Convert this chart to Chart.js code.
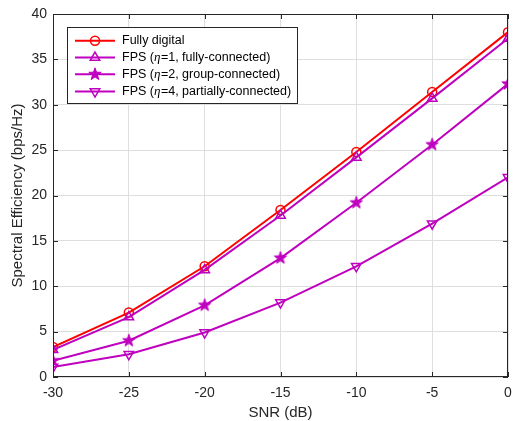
<!DOCTYPE html>
<html>
<head>
<meta charset="utf-8">
<script src="https://cdn.jsdelivr.net/npm/chart.js@4/dist/chart.umd.min.js"></script>
<style>
  html, body { margin: 0; padding: 0; background: #fff; }
  #wrap { width: 515px; height: 421px; }
</style>
</head>
<body>
<div id="wrap"><canvas id="chart" width="515" height="421"></canvas></div>
<script>
// data
const snr = [-30, -25, -20, -15, -10, -5, 0];
const fullyDigital = [3.3, 7.1, 12.2, 18.4, 24.8, 31.4, 38.0];
const fpsEta1 = [3.0, 6.6, 11.8, 17.8, 24.2, 30.7, 37.3];
const fpsEta2 = [1.8, 4.0, 7.9, 13.1, 19.2, 25.6, 32.3];
const fpsEta4 = [1.1, 2.5, 4.9, 8.2, 12.2, 16.9, 22.0];
const xTicks = [-30, -25, -20, -15, -10, -5, 0];
const yTicks = [0, 5, 10, 15, 20, 25, 30, 35, 40];
const legendLabels = [
  ['Fully digital'],
  ['FPS (', 'η', '=1, fully-connected)'],
  ['FPS (', 'η', '=2, group-connected)'],
  ['FPS (', 'η', '=4, partially-connected)']
];

const RED = '#ff0000';
const MAG = '#bf00bf';
const AXIS = '#262626';
const FONT = '"Liberation Sans", Arial, sans-serif';

// filled five point star used as a point style
function makeStar(color, r) {
  const c = document.createElement('canvas');
  const s = Math.ceil(r * 2 + 3);
  c.width = s; c.height = s;
  const g = c.getContext('2d');
  starPath(g, s / 2, s / 2, r);
  g.fillStyle = color;
  g.fill();
  g.strokeStyle = color;
  g.lineWidth = 1;
  g.stroke();
  return c;
}
function starPath(g, cx, cy, r) {
  const ri = r * 0.4;
  g.beginPath();
  for (let i = 0; i < 10; i++) {
    const rr = i % 2 === 0 ? r : ri;
    const a = -Math.PI / 2 + i * Math.PI / 5;
    const px = cx + rr * Math.cos(a), py = cy + rr * Math.sin(a);
    if (i === 0) g.moveTo(px, py); else g.lineTo(px, py);
  }
  g.closePath();
}
const starImg = makeStar(MAG, 6.5);

function pts(ys) {
  return snr.map((x, i) => ({ x, y: ys[i] }));
}

const markers = ['circle', 'triangle', 'star', 'down'];
const colors = [RED, MAG, MAG, MAG];

function drawMarker(ctx, type, x, y, color) {
  ctx.save();
  ctx.strokeStyle = color;
  ctx.fillStyle = color;
  ctx.lineWidth = 1.5;
  if (type === 'circle') {
    ctx.beginPath();
    ctx.arc(x, y, 4.5, 0, Math.PI * 2);
    ctx.stroke();
  } else if (type === 'triangle' || type === 'down') {
    const r = 5.5, d = type === 'down' ? -1 : 1;
    ctx.beginPath();
    for (let i = 0; i < 3; i++) {
      const a = i * 2 * Math.PI / 3;
      const px = x + Math.sin(a) * r, py = y - d * Math.cos(a) * r;
      if (i === 0) ctx.moveTo(px, py); else ctx.lineTo(px, py);
    }
    ctx.closePath();
    ctx.stroke();
  } else {
    starPath(ctx, x, y, 6.5);
    ctx.fill();
    ctx.lineWidth = 1;
    ctx.stroke();
  }
  ctx.restore();
}

const frame = {
  id: 'frame',
  afterDraw(chart) {
    const { ctx, chartArea: a } = chart;
    const xs = chart.scales.x, ys = chart.scales.y;
    ctx.save();
    ctx.strokeStyle = AXIS;
    ctx.lineWidth = 1;
    ctx.strokeRect(Math.round(a.left) + 0.5, Math.round(a.top) + 0.5,
      Math.round(a.right - a.left) - 1, Math.round(a.bottom - a.top) - 1);
    ctx.beginPath();
    const tl = 5;
    xTicks.forEach(v => {
      const px = Math.round(xs.getPixelForValue(v)) + 0.5;
      ctx.moveTo(px, a.bottom); ctx.lineTo(px, a.bottom - tl);
      ctx.moveTo(px, a.top); ctx.lineTo(px, a.top + tl);
    });
    yTicks.forEach(v => {
      const py = Math.round(ys.getPixelForValue(v)) + 0.5;
      ctx.moveTo(a.left, py); ctx.lineTo(a.left + tl, py);
      ctx.moveTo(a.right, py); ctx.lineTo(a.right - tl, py);
    });
    ctx.stroke();

    // legend box
    const bx = 67.5, by = 27.5, bw = 230, bh = 76;
    ctx.fillStyle = '#fff';
    ctx.fillRect(bx, by, bw, bh);
    ctx.strokeStyle = AXIS;
    ctx.strokeRect(bx, by, bw, bh);
    const rowY = [40.7, 57.5, 74.3, 91.5];
    legendLabels.forEach((parts, i) => {
      const y = rowY[i];
      ctx.strokeStyle = colors[i];
      ctx.lineWidth = 2;
      ctx.beginPath();
      ctx.moveTo(75, y); ctx.lineTo(115, y);
      ctx.stroke();
      drawMarker(ctx, markers[i], 95, y, colors[i]);
      let tx = 122;
      ctx.fillStyle = '#000';
      ctx.textBaseline = 'middle';
      ctx.textAlign = 'left';
      parts.forEach((p, k) => {
        ctx.font = (k === 1) ? 'italic 13px "Liberation Serif", serif' : '12.5px ' + FONT;
        ctx.fillText(p, tx, y);
        tx += ctx.measureText(p).width + (k === 1 ? 0.5 : 0);
      });
    });
    ctx.restore();
  }
};

const seriesValues = [fullyDigital, fpsEta1, fpsEta2, fpsEta4];
const datasets = seriesValues.map((vals, i) => ({
  label: legendLabels[i].join(''),
  data: pts(vals),
  borderColor: colors[i],
  backgroundColor: 'rgba(0,0,0,0)',
  borderWidth: 2,
  pointBorderWidth: 1.5,
  pointStyle: markers[i] === 'circle' ? 'circle' : markers[i] === 'star' ? starImg : 'triangle',
  pointRotation: markers[i] === 'down' ? 180 : 0,
  pointRadius: markers[i] === 'circle' ? 4.5 : 5.5,
  pointHoverRadius: 5.5,
  tension: 0,
  order: 4 - i
}));

new Chart(document.getElementById('chart'), {
  type: 'line',
  data: { datasets },
  plugins: [frame],
  options: {
    responsive: false,
    animation: false,
    layout: { padding: { top: 14, right: -4, left: 0, bottom: 0 } },
    plugins: { legend: { display: false }, tooltip: { enabled: false } },
    scales: {
      x: {
        type: 'linear',
        min: -30, max: 0,
        afterBuildTicks(s) { s.ticks = xTicks.map(v => ({ value: v })); },
        afterFit(s) { s.height = 44; s.paddingLeft = 0; s.paddingRight = 0; },
        grid: { color: '#dedede', drawTicks: false },
        border: { display: false },
        ticks: { color: AXIS, font: { family: FONT, size: 14 }, padding: 8, maxRotation: 0 },
        title: {
          display: true, text: 'SNR (dB)', color: AXIS,
          font: { family: FONT, size: 15, lineHeight: 1.2 },
          padding: { top: 0, bottom: -1 }
        }
      },
      y: {
        min: 0, max: 40,
        afterBuildTicks(s) { s.ticks = yTicks.map(v => ({ value: v })); },
        afterFit(s) { s.width = 53; s.paddingTop = 0; s.paddingBottom = 0; },
        grid: { color: '#dedede', drawTicks: false },
        border: { display: false },
        ticks: { color: AXIS, font: { family: FONT, size: 14 }, padding: 6 },
        title: {
          display: true, text: 'Spectral Efficiency (bps/Hz)', color: AXIS,
          font: { family: FONT, size: 15, lineHeight: 1.2 },
          padding: { top: 9, bottom: 0 }
        }
      }
    }
  }
});
</script>
</body>
</html>
